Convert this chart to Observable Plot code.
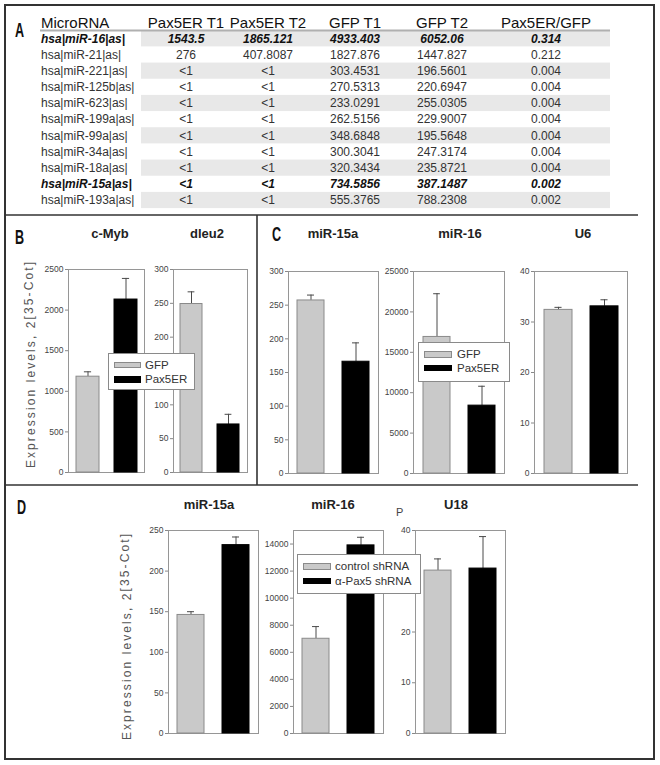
<!DOCTYPE html>
<html><head><meta charset="utf-8">
<script src="https://cdn.jsdelivr.net/npm/d3@7"></script>
<script src="https://cdn.jsdelivr.net/npm/@observablehq/plot@0.6"></script>
<style>
html,body{margin:0;padding:0;background:#fff;}
#fig{position:relative;width:660px;height:765px;overflow:hidden;font-family:"Liberation Sans",Arial,sans-serif;background:#fff;}
#fig svg.plotsvg{position:absolute;z-index:1;}
</style></head>
<body><div id="fig"></div>
<script>
// ---------- Panel A table data ----------
const tableHeader = ["MicroRNA","Pax5ER T1","Pax5ER T2","GFP T1","GFP T2","Pax5ER/GFP"];
const microRNA = ["hsa|miR-16|as|","hsa|miR-21|as|","hsa|miR-221|as|","hsa|miR-125b|as|","hsa|miR-623|as|","hsa|miR-199a|as|","hsa|miR-99a|as|","hsa|miR-34a|as|","hsa|miR-18a|as|","hsa|miR-15a|as|","hsa|miR-193a|as|"];
const pax5erT1 = ["1543.5","276","<1","<1","<1","<1","<1","<1","<1","<1","<1"];
const pax5erT2 = ["1865.121","407.8087","<1","<1","<1","<1","<1","<1","<1","<1","<1"];
const gfpT1 = ["4933.403","1827.876","303.4531","270.5313","233.0291","262.5156","348.6848","300.3041","320.3434","734.5856","555.3765"];
const gfpT2 = ["6052.06","1447.827","196.5601","220.6947","255.0305","229.9007","195.5648","247.3174","235.8721","387.1487","788.2308"];
const ratio = ["0.314","0.212","0.004","0.004","0.004","0.004","0.004","0.004","0.004","0.002","0.002"];
const highlighted = ["hsa|miR-16|as|","hsa|miR-15a|as|"];

// ---------- Bar chart data ----------
const groupsBC = ["GFP","Pax5ER"];
const groupsD = ["control shRNA","\u03b1-Pax5 shRNA"];
const yLabelMain = "Expression levels, 2";
const yLabelSup = "[35-Cot]";

const cMybMean = [1180, 2130], cMybTop = [1240, 2390], cMybTicks = [0,500,1000,1500,2000,2500];
// the 150 tick of dleu2 is hidden behind the legend in the reference
const dleu2Mean = [249, 71], dleu2Top = [267, 86], dleu2Ticks = [0,50,100,200,250,300];
const c15aMean = [257, 166], c15aTop = [265, 194], c15aTicks = [0,50,100,150,200,250,300];
const c16Mean = [16900, 8400], c16Top = [22250, 10800], c16Ticks = [0,5000,10000,15000,20000,25000];
const u6Mean = [32.4, 33.1], u6Top = [32.9, 34.4], u6Ticks = [0,10,20,30,40];
const d15aMean = [146, 232], d15aTop = [150, 242], d15aTicks = [0,50,100,150,200,250];
const d16Mean = [7000, 13900], d16Top = [7900, 14500], d16Ticks = [0,2000,4000,6000,8000,10000,12000,14000];
// the 30 tick of U18 is hidden behind the legend in the reference
const u18Mean = [32.1, 32.5], u18Top = [34.4, 38.8], u18Ticks = [0,10,20,40];

// ---------- layout ----------
const FONT = "Liberation Sans, Arial, sans-serif";
const fig = document.getElementById("fig");

const panels = [
  {title:"c-Myb",  groups:groupsBC, mean:cMybMean, top:cMybTop, domain:[0,2500], ticks:cMybTicks, frame:[68,144,269,472], tx:110, ty:238},
  {title:"dleu2",  groups:groupsBC, mean:dleu2Mean, top:dleu2Top, domain:[0,300], ticks:dleu2Ticks, frame:[173,247,269,472], tx:207, ty:238},
  {title:"miR-15a",groups:groupsBC, mean:c15aMean, top:c15aTop, domain:[0,300], ticks:c15aTicks, frame:[288,378,271,473], tx:333, ty:238},
  {title:"miR-16", groups:groupsBC, mean:c16Mean, top:c16Top, domain:[0,25000], ticks:c16Ticks, frame:[413,504,271,473], tx:460, ty:238},
  {title:"U6",     groups:groupsBC, mean:u6Mean, top:u6Top, domain:[0,40], ticks:u6Ticks, frame:[534,627,271,473], tx:583, ty:238},
  {title:"miR-15a",groups:groupsD, mean:d15aMean, top:d15aTop, domain:[0,250], ticks:d15aTicks, frame:[168,258,530,733], tx:209, ty:509},
  {title:"miR-16", groups:groupsD, mean:d16Mean, top:d16Top, domain:[0,15000], ticks:d16Ticks, frame:[293,383,530,733], tx:333, ty:509},
  {title:"U18",    groups:groupsD, mean:u18Mean, top:u18Top, domain:[0,40], ticks:u18Ticks, frame:[415,505,530,733], tx:456, ty:509}
];

function barPanel(p){
  const [x0,x1,y0,y1] = p.frame;
  const mL = 36, mR = 2, mT = 3, mB = 2;
  const W = x1 - x0, H = y1 - y0;
  const data = p.groups.map((g,i)=>({group:g, mean:p.mean[i], top:p.top[i], idx:i}));
  const bw = 0.3 * W;
  const capInset = Math.max(0, bw/2 - 3.5);
  const chart = Plot.plot({
    width: mL + W + mR, height: mT + H + mB,
    marginLeft: mL, marginRight: mR, marginTop: mT, marginBottom: mB,
    style: {background:"transparent", fontFamily: FONT, fontSize:"8.5px", color:"#444", overflow:"visible"},
    x: {type:"band", domain:p.groups, paddingInner:0.4, paddingOuter:0.2, axis:null},
    y: {domain:p.domain, label:null},
    marks: [
      Plot.frame({stroke:"#969696", strokeWidth:1}),
      Plot.ruleX(data, {x:"group", y1:"mean", y2:"top", stroke:"#4a4a4a", strokeWidth:1}),
      Plot.tickY(data, {x:"group", y:"top", stroke:"#4a4a4a", strokeWidth:1, insetLeft:capInset, insetRight:capInset}),
      Plot.barY(data, {filter:d=>d.idx===0, x:"group", y:"mean", fill:"#c9c9c9", stroke:"#8a8a8a", strokeWidth:1}),
      Plot.barY(data, {filter:d=>d.idx===1, x:"group", y:"mean", fill:"#000", stroke:"#000", strokeWidth:1}),
      Plot.axisY(p.ticks, {tickSize:3, tickPadding:2, stroke:"#888", fill:"#444", fontSize:8.5, tickFormat:d=>String(d), label:null})
    ]
  });
  chart.classList.add("plotsvg");
  chart.style.position = "absolute";
  chart.style.left = (x0 - mL) + "px";
  chart.style.top = (y0 - mT) + "px";
  chart.style.maxWidth = "none";
  fig.appendChild(chart);
}
panels.forEach(barPanel);

// ---------- overlay: borders, table, titles, legends ----------
const svg = d3.select(fig).append("svg")
  .attr("width",660).attr("height",765)
  .style("position","absolute").style("left","0px").style("top","0px").style("z-index",2)
  .style("font-family", FONT);

// outer border and dividers
svg.append("rect").attr("x",5).attr("y",5).attr("width",649).attr("height",754)
  .attr("fill","none").attr("stroke","#333").attr("stroke-width",2);
svg.append("line").attr("x1",5).attr("x2",638).attr("y1",215).attr("y2",215).attr("stroke","#333").attr("stroke-width",1.6);
svg.append("line").attr("x1",5).attr("x2",638).attr("y1",485).attr("y2",485).attr("stroke","#333").attr("stroke-width",1.6);
svg.append("line").attr("x1",257).attr("x2",257).attr("y1",215).attr("y2",485).attr("stroke","#333").attr("stroke-width",1.6);

// panel letters
function letter(t,x,y){
  svg.append("text").text(t).attr("transform",`translate(${x},${y}) scale(0.6,1)`)
    .attr("font-size",21).attr("font-weight","bold").attr("fill","#111");
}
letter("A",15,37); letter("B",15,244); letter("C",272,241); letter("D",17,514);

// table
const colX = [41,186,268,355,442,546];
const rowY0 = 38.3, rowStep = 16.17;
microRNA.forEach((m,i)=>{
  const cy = rowY0 + i*rowStep;
  if(i % 2 === 0){
    svg.append("rect").attr("x",141).attr("y",cy-rowStep/2).attr("width",469).attr("height",rowStep).attr("fill","#e8e8e8");
  }
});
svg.append("line").attr("x1",40).attr("x2",610).attr("y1",30.5).attr("y2",30.5).attr("stroke","#b0b0b0").attr("stroke-width",2);
tableHeader.forEach((h,j)=>{
  svg.append("text").text(h).attr("x",colX[j]).attr("y",27.5)
    .attr("text-anchor", j===0 ? "start" : "middle")
    .attr("font-size",15).attr("fill","#111");
});
const tableCols = [microRNA, pax5erT1, pax5erT2, gfpT1, gfpT2, ratio];
microRNA.forEach((m,i)=>{
  const cy = rowY0 + i*rowStep;
  const hl = highlighted.includes(m);
  tableCols.forEach((col,j)=>{
    svg.append("text").text(col[i]).attr("x",colX[j]).attr("y",cy+4.3)
      .attr("text-anchor", j===0 ? "start" : "middle")
      .attr("font-size",12)
      .attr("font-weight", hl ? "bold" : "normal")
      .attr("font-style", hl ? "italic" : "normal")
      .attr("fill", hl ? "#111" : "#333");
  });
});

// titles
panels.forEach(p=>{
  svg.append("text").text(p.title).attr("x",p.tx).attr("y",p.ty).attr("text-anchor","middle")
    .attr("font-size",13).attr("font-weight","bold").attr("fill","#222");
});
svg.append("text").text("P").attr("x",396).attr("y",516).attr("font-size",11).attr("fill","#444");

// y labels
function yLabel(x,y){
  const t = svg.append("text").attr("transform",`translate(${x},${y}) rotate(-90)`)
    .attr("text-anchor","middle").attr("font-size",12).attr("letter-spacing","2.1px").attr("fill","#555");
  t.append("tspan").text(yLabelMain);
  t.append("tspan").text(yLabelSup).attr("dy",-2);
}
yLabel(35,364);
yLabel(131,636);

// legends
function legend(box, labels, sw, txtX, rows, fs){
  const [bx0,bx1,by0,by1] = box;
  svg.append("rect").attr("x",bx0+0.5).attr("y",by0+0.5).attr("width",bx1-bx0).attr("height",by1-by0)
    .attr("fill","#fff").attr("stroke","#8a8a8a").attr("stroke-width",1);
  labels.forEach((lab,i)=>{
    const [ry0,ry1] = rows[i];
    svg.append("rect").attr("x",sw[0]+0.5).attr("y",ry0+0.5).attr("width",sw[1]-sw[0]).attr("height",ry1-ry0)
      .attr("fill", i===0 ? "#c9c9c9" : "#000").attr("stroke", i===0 ? "#8a8a8a" : "#000");
    svg.append("text").text(lab).attr("x",txtX).attr("y",(ry0+ry1)/2 + fs*0.36)
      .attr("font-size",fs).attr("fill","#333");
  });
}
legend([108,194,353,389], groupsBC, [114,140], 145, [[362,367],[376,382]], 11.5);
legend([418,509,342,381], groupsBC, [424,451], 457, [[351,357],[365,370]], 11.5);
legend([297,420,554,593], groupsD, [303,330], 335, [[563,569],[578,583]], 11.5);
</script>
</body></html>
